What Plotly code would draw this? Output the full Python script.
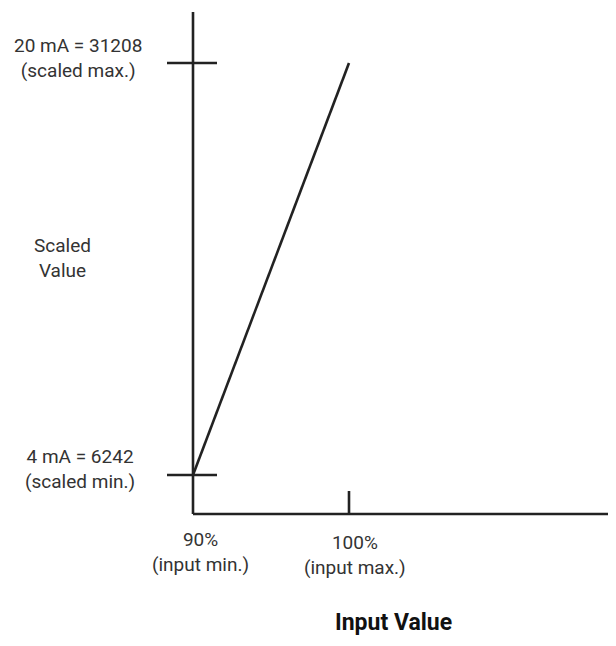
import plotly.graph_objects as go

# data
input_pct = [90, 100]            # input min / max (%)
scaled = [6242, 31208]           # scaled min / max
input_labels = ["90%<br>(input min.)", "100%<br>(input max.)"]
scaled_labels = ["4 mA = 6242<br>(scaled min.)", "20 mA = 31208<br>(scaled max.)"]

INK = "#222222"
TXT = "#333333"
FONT = "Roboto, 'Liberation Sans', sans-serif"

W, H = 600, 630
OFF = 8  # page body margin

x0, x1 = input_pct
y0, y1 = scaled
# pixel scale of the reference drawing
X0P, X1P = 193, 349
Y0P, Y1P = 475, 63
dx = (x1 - x0) / (X1P - X0P)
dy = (y1 - y0) / (Y0P - Y1P)


def px(p):
    return x0 + (p - X0P) * dx


def py(p):
    return y0 + (Y0P - p) * dy


LW = 2.6
fig = go.Figure()

# the scaling line
fig.add_trace(go.Scatter(x=input_pct, y=scaled, mode="lines",
                         line=dict(color=INK, width=LW), hoverinfo="skip",
                         showlegend=False))

# axes
fig.add_shape(type="line", x0=x0, x1=x0, y0=py(514), y1=py(12),
              line=dict(color=INK, width=LW))
fig.add_shape(type="line", x0=x0, x1=px(640), y0=py(514), y1=py(514),
              line=dict(color=INK, width=LW))

# ticks crossing the vertical axis
for v in scaled:
    fig.add_shape(type="line", x0=px(167), x1=px(217), y0=v, y1=v,
                  line=dict(color=INK, width=LW))
# tick for input max on the horizontal axis
fig.add_shape(type="line", x0=x1, x1=x1, y0=py(514), y1=py(491),
              line=dict(color=INK, width=LW))


def label(xp, yp, text, size=19, color=TXT, family=FONT, weight=400):
    fig.add_annotation(x=px(xp), y=py(yp), text=text, showarrow=False,
                       xanchor="center", yanchor="middle",
                       font=dict(family=family, size=size, color=color, weight=weight))


# scaled value labels
label(78, 58, scaled_labels[1])
label(80, 469, scaled_labels[0])
label(62, 258, "Scaled<br>Value")

# input value labels
label(200, 552, input_labels[0])
label(355, 555, input_labels[1])

label(393, 622, "<b>Input Value</b>", size=23, color="#111111", weight=700)

fig.update_xaxes(range=[px(OFF), px(OFF + W)], visible=False)
fig.update_yaxes(range=[py(OFF + H), py(OFF)], visible=False)
fig.update_layout(width=W, height=H, margin=dict(l=0, r=0, t=0, b=0),
                  plot_bgcolor="white", paper_bgcolor="white")

fig.write_html("out.html")
